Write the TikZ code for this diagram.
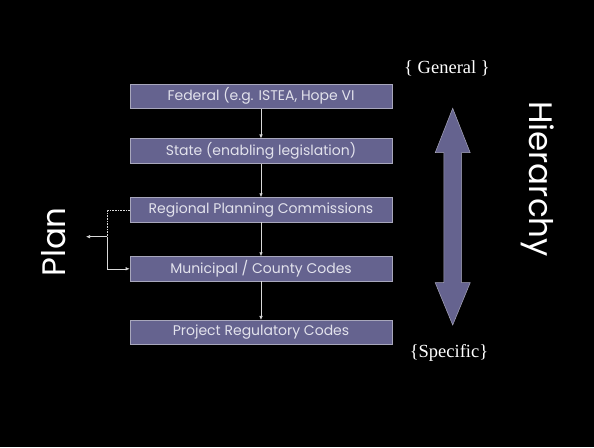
\documentclass[tikz,border=0pt]{standalone}
\usepackage{fontspec}
\setmainfont{Liberation Serif}
\newfontfamily\gothic{Poppins}
\usetikzlibrary{arrows.meta}
\definecolor{boxfill}{HTML}{65638F}
\definecolor{boxline}{HTML}{A8A7BC}
\definecolor{boxtext}{HTML}{E2E2EC}
\begin{document}
\begin{tikzpicture}[x=1pt,y=-1pt,
  level/.style={draw=boxline, line width=0.6pt, fill=boxfill, text=boxtext,
    minimum width=262pt, minimum height=24.5pt, inner sep=0pt,
    font=\gothic\fontsize{14}{15}\selectfont},
  link/.style={draw=white!85!black, line width=0.6pt, -{Latex[length=4pt,width=3.5pt]}},
  dotlink/.style={draw=white!85!black, line width=0.6pt, densely dotted},
  bigtext/.style={text=white, font=\gothic\fontsize{32.5}{33}\selectfont},
  endlabel/.style={text=white, font=\fontsize{18.5}{19}\selectfont}]
  \fill[black] (0,0) rectangle (594,447);
  \useasboundingbox (0,0) rectangle (594,447);

  % stack of levels
  \node[level] (fed) at (261,96.3) {Federal (e.g. ISTEA, Hope VI};
  \node[level] (state) at (261,151) {State (enabling legislation)};
  \node[level] (reg) at (261,209.8) {Regional Planning Commissions};
  \node[level] (mun) at (261,268.8) {Municipal / County Codes};
  \node[level] (proj) at (261,332.5) {Project Regulatory Codes};

  \draw[link] (fed) -- (state);
  \draw[link] (state) -- (reg);
  \draw[link] (reg) -- (mun);
  \draw[link] (mun) -- (proj);

  % side branch towards the plan label
  \coordinate (corner) at (107.3,209.8);
  \coordinate (split) at (107.3,236.7);
  \coordinate (planend) at (86,236.7);
  \draw[dotlink] (reg.west) -- (corner) -- (split);
  \draw[link] (split) |- (mun.west);
  \draw[link] (split) -- (planend);

  \node[bigtext, rotate=90] (plan) at (54,242) {Plan};
  \node[bigtext, rotate=-90] (hier) at (538,179) {Hierarchy};

  % double-headed arrow between the two ends
  \fill[boxfill, draw=boxline, line width=0.5pt]
    (452.7,108.3) -- (470.2,152.7) -- (461.5,152.7) -- (461.5,282.7)
    -- (470.2,282.7) -- (452.7,325) -- (435.2,282.7) -- (443.9,282.7)
    -- (443.9,152.7) -- (435.2,152.7) -- cycle;

  \node[endlabel] (gen) at (447,68) {\{ General \}};
  \node[endlabel] (spec) at (449,353) {\{Specific\}};
\end{tikzpicture}
\end{document}
